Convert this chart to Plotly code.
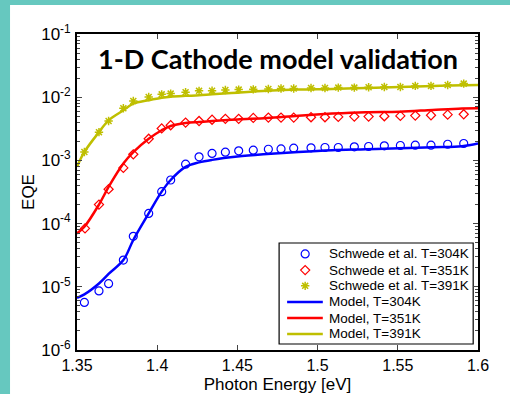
import plotly.graph_objects as go

# ---- data ----
x_data = [1.3546, 1.3637, 1.3697, 1.3789, 1.3851, 1.3947, 1.4028, 1.4084, 1.4177, 1.4261,
          1.4342, 1.4425, 1.4508, 1.4599, 1.4693, 1.4772, 1.4851, 1.4959, 1.5046, 1.5129,
          1.5229, 1.5318, 1.5416, 1.5516, 1.5609, 1.5707, 1.5811, 1.5911]
x_data_red = [1.3550] + x_data[1:]

eqe_304 = [5.66e-6, 8.6e-6, 1.12e-5, 2.65e-5, 6.3e-5, 1.45e-4, 3.2e-4, 4.9e-4, 8.7e-4, 1.14e-3,
           1.29e-3, 1.35e-3, 1.42e-3, 1.45e-3, 1.50e-3, 1.52e-3, 1.56e-3, 1.58e-3, 1.60e-3, 1.60e-3,
           1.64e-3, 1.66e-3, 1.70e-3, 1.72e-3, 1.74e-3, 1.74e-3, 1.80e-3, 1.85e-3]
eqe_351 = [8.4e-5, 2.0e-4, 3.5e-4, 7.6e-4, 1.25e-3, 2.2e-3, 3.2e-3, 3.6e-3, 3.97e-3, 4.2e-3,
           4.4e-3, 4.55e-3, 4.55e-3, 4.7e-3, 4.76e-3, 4.76e-3, 4.76e-3, 4.82e-3, 4.82e-3, 4.88e-3,
           4.93e-3, 4.93e-3, 5.0e-3, 5.06e-3, 5.12e-3, 5.18e-3, 5.3e-3, 5.37e-3]
eqe_391 = [1.36e-3, 2.8e-3, 4.2e-3, 6.7e-3, 8.7e-3, 1.01e-2, 1.11e-2, 1.14e-2, 1.20e-2, 1.26e-2,
           1.27e-2, 1.30e-2, 1.32e-2, 1.33e-2, 1.35e-2, 1.37e-2, 1.37e-2, 1.40e-2, 1.40e-2, 1.42e-2,
           1.42e-2, 1.44e-2, 1.45e-2, 1.45e-2, 1.51e-2, 1.51e-2, 1.56e-2, 1.64e-2]

x_model = [1.35, 1.3546, 1.3637, 1.3697, 1.3789, 1.3851, 1.3947, 1.4028, 1.4084, 1.4177,
           1.4261, 1.4342, 1.45, 1.4685, 1.488, 1.509, 1.53, 1.551, 1.5717, 1.59, 1.6]
model_304 = [6.7e-6, 7.6e-6, 1.13e-5, 1.6e-5, 2.65e-5, 5.5e-5, 1.45e-4, 3.2e-4, 4.9e-4, 7.9e-4,
             9.3e-4, 1.02e-3, 1.15e-3, 1.26e-3, 1.36e-3, 1.45e-3, 1.5e-3, 1.56e-3, 1.62e-3, 1.68e-3, 1.85e-3]
model_351 = [7.0e-5, 8.9e-5, 2.0e-4, 3.8e-4, 8.9e-4, 1.35e-3, 2.2e-3, 3.0e-3, 3.5e-3, 3.9e-3,
             4.05e-3, 4.2e-3, 4.45e-3, 4.7e-3, 5.1e-3, 5.5e-3, 5.8e-3, 5.9e-3, 6.3e-3, 6.65e-3, 6.7e-3]
model_391 = [7.9e-4, 1.36e-3, 2.8e-3, 4.3e-3, 6.2e-3, 7.9e-3, 8.95e-3, 9.8e-3, 1.02e-2, 1.05e-2,
             1.07e-2, 1.11e-2, 1.18e-2, 1.26e-2, 1.32e-2, 1.35e-2, 1.40e-2, 1.45e-2, 1.51e-2, 1.55e-2, 1.56e-2]

series_names = ["Schwede et al. T=304K", "Schwede et al. T=351K", "Schwede et al. T=391K",
                "Model, T=304K", "Model, T=351K", "Model, T=391K"]

x_ticks = [1.35, 1.4, 1.45, 1.5, 1.55, 1.6]
x_ticklabels = ["1.35", "1.4", "1.45", "1.5", "1.55", "1.6"]
y_ticks = [1e-6, 1e-5, 1e-4, 1e-3, 1e-2, 1e-1]
y_ticklabels = ["10<sup>-6</sup>", "10<sup>-5</sup>", "10<sup>-4</sup>",
                "10<sup>-3</sup>", "10<sup>-2</sup>", "10<sup>-1</sup>"]

BLUE, RED, YEL = "#0000ff", "#ff0000", "#bfbf00"
COLORS = [BLUE, RED, YEL]
FONT = "Arial, Liberation Sans, sans-serif"
MARKERS = [dict(symbol="circle-open", size=8, line=dict(width=1.2)),
           dict(symbol="diamond-open", size=7, line=dict(width=1.2)),
           dict(symbol="asterisk-open", size=7, line=dict(width=1.5))]

fig = go.Figure()

# white slide panel behind the chart, then legend box (both below traces)
fig.add_shape(type="rect", xref="paper", yref="paper", x0=-0.167, x1=1.2, y0=-0.2, y1=1.092,
              fillcolor="white", line=dict(width=0), layer="below")
LEG_X0, LEG_X1, LEG_Y0, LEG_Y1 = 0.504, 0.988, 0.019, 0.3386
fig.add_shape(type="rect", xref="paper", yref="paper", x0=LEG_X0, x1=LEG_X1, y0=LEG_Y0, y1=LEG_Y1,
              fillcolor="white", line=dict(color="black", width=1.2), layer="below")

for xs, ys, c, m, n in zip([x_data, x_data_red, x_data], [eqe_304, eqe_351, eqe_391],
                           COLORS, MARKERS, series_names[:3]):
    fig.add_trace(go.Scatter(x=xs, y=ys, mode="markers", name=n, showlegend=False,
                             marker=dict(color=c, **m)))
for ys, c, n in zip([model_304, model_351, model_391], COLORS, series_names[3:]):
    fig.add_trace(go.Scatter(x=x_model, y=ys, mode="lines", name=n, showlegend=False,
                             line=dict(color=c, width=2.5, shape="spline")))

# ---- custom legend (compact rows, like the original) ----
row_y = [0.304, 0.253, 0.203, 0.152, 0.101, 0.051]
for i in range(3):
    fig.add_trace(go.Scatter(x=[0.569], y=[row_y[i]], xaxis="x2", yaxis="y2", mode="markers",
                             showlegend=False, hoverinfo="skip",
                             marker=dict(color=COLORS[i], **MARKERS[i])))
    fig.add_trace(go.Scatter(x=[0.524, 0.613], y=[row_y[i + 3]] * 2, xaxis="x2", yaxis="y2",
                             mode="lines", showlegend=False, hoverinfo="skip",
                             line=dict(color=COLORS[i], width=2.5)))
for i, n in enumerate(series_names):
    fig.add_annotation(text=n, xref="paper", yref="paper", x=0.624, y=row_y[i],
                       xanchor="left", yanchor="middle", showarrow=False,
                       font=dict(family=FONT, size=13.5, color="black"))

minor_vals = [m * 10 ** k for k in range(-6, -1) for m in range(2, 10)]

fig.update_xaxes(range=[1.35, 1.6], tickvals=x_ticks, ticktext=x_ticklabels,
                 ticks="inside", ticklen=5, showline=True, linecolor="black", linewidth=1.5,
                 mirror="ticks", showgrid=False, zeroline=False, automargin=False,
                 tickfont=dict(family=FONT, size=16, color="black"),
                 title=dict(text="Photon Energy [eV]", font=dict(family=FONT, size=17, color="black"),
                            standoff=6))
fig.update_yaxes(type="log", range=[-6, -1], tickvals=y_ticks, ticktext=y_ticklabels,
                 ticks="inside", ticklen=5, showline=True, linecolor="black", linewidth=1.8,
                 mirror="ticks", showgrid=False, zeroline=False, ticklabelstandoff=1, automargin=False,
                 minor=dict(tickvals=minor_vals, ticks="inside", ticklen=3, showgrid=False),
                 tickfont=dict(family=FONT, size=17, color="black"),
                 title=dict(text="EQE", font=dict(family=FONT, size=17, color="black"), standoff=2))

fig.add_annotation(text="<b>1-D Cathode model validation</b>", xref="paper", yref="paper",
                   x=0.5, y=0.924, xanchor="center", yanchor="middle", showarrow=False,
                   font=dict(family="Lato, Roboto, sans-serif", size=27, color="black", weight=900))

fig.update_layout(
    width=510, height=394,
    margin=dict(l=77, r=32, t=34, b=44, autoexpand=False),
    paper_bgcolor="#66c8bf", plot_bgcolor="white",
    showlegend=False,
    xaxis2=dict(overlaying="x", range=[0, 1], visible=False, fixedrange=True),
    yaxis2=dict(overlaying="y", range=[0, 1], visible=False, fixedrange=True),
)

fig.write_html("out.html", config={"displayModeBar": False},
               post_script="document.body.style.margin='0';")
